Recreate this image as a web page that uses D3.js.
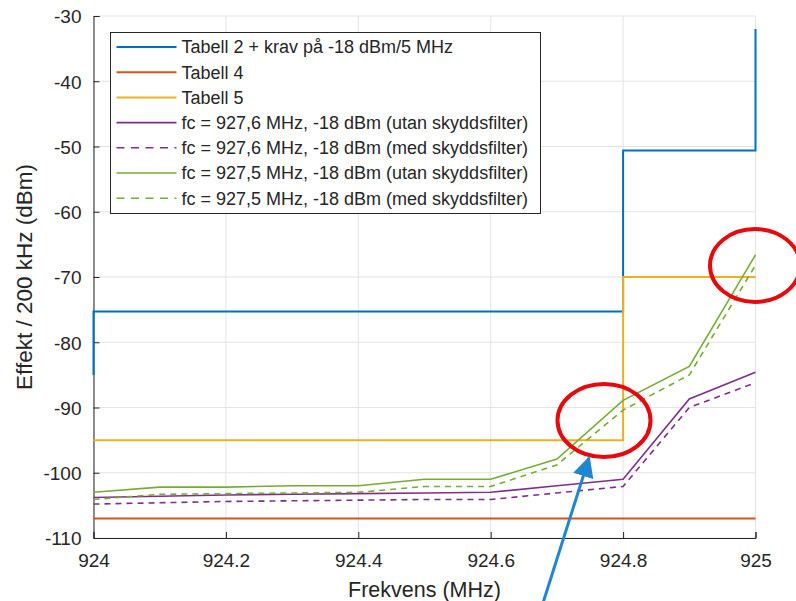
<!DOCTYPE html>
<html>
<head>
<meta charset="utf-8">
<script src="https://cdn.jsdelivr.net/npm/d3@7"></script>
<style>
  body { margin: 0; background: #fff; }
  svg text { font-family: "Liberation Sans", Arial, sans-serif; fill: #262626; }
</style>
</head>
<body>
<div id="chart"></div>
<script>
// frequency points (MHz)
var freqs = [924, 924.1, 924.2, 924.3, 924.4, 924.5, 924.6, 924.7, 924.8, 924.9, 925];

// measured curves (dBm / 200 kHz)
var purpleUtan = [-103.8, -103.6, -103.4, -103.3, -103.2, -103.1, -103, -102, -101, -88.7, -84.6];
var purpleMed  = [-104.8, -104.6, -104.4, -104.3, -104.2, -104.1, -104.1, -103.1, -102.1, -90, -86.2];
var greenUtan  = [-103, -102.2, -102.2, -102, -102, -101, -101, -97.9, -88.9, -83.7, -66.6];
var greenMed   = [-104.1, -103.3, -103.2, -103.1, -103, -102.1, -102.1, -98.8, -90.4, -85, -68.2];

// limit masks, given as [freq, value] corner points
var tabell2 = [[924, -85], [924, -75.3], [924.8, -75.3], [924.8, -50.6], [925, -50.6], [925, -32]];
var tabell4 = [[924, -107], [925, -107]];
var tabell5 = [[924, -95], [924.8, -95], [924.8, -70], [925, -70]];

var xTicks = [924, 924.2, 924.4, 924.6, 924.8, 925];
var yTicks = [-110, -100, -90, -80, -70, -60, -50, -40, -30];

var legendLabels = [
  "Tabell 2 + krav på -18 dBm/5 MHz",
  "Tabell 4",
  "Tabell 5",
  "fc = 927,6 MHz, -18 dBm (utan skyddsfilter)",
  "fc = 927,6 MHz, -18 dBm (med skyddsfilter)",
  "fc = 927,5 MHz, -18 dBm (utan skyddsfilter)",
  "fc = 927,5 MHz, -18 dBm (med skyddsfilter)"
];

var W = 796, H = 601;
var m = { left: 93.5, right: 755.5, top: 16, bottom: 538 };

var x = d3.scaleLinear().domain([924, 925]).range([m.left, m.right]);
var y = d3.scaleLinear().domain([-110, -30]).range([m.bottom, m.top]);

var svg = d3.select("#chart").append("svg")
  .attr("width", W)
  .attr("height", H);

// grid
var grid = svg.append("g").attr("class", "grid");
grid.selectAll("line.gx")
  .data(xTicks)
  .enter().append("line")
    .attr("x1", function(d) { return x(d); })
    .attr("x2", function(d) { return x(d); })
    .attr("y1", m.top)
    .attr("y2", m.bottom)
    .attr("stroke", "#e3e3e3")
    .attr("stroke-width", 1);
grid.selectAll("line.gy")
  .data(yTicks)
  .enter().append("line")
    .attr("x1", m.left)
    .attr("x2", m.right)
    .attr("y1", function(d) { return y(d); })
    .attr("y2", function(d) { return y(d); })
    .attr("stroke", "#e3e3e3")
    .attr("stroke-width", 1);

// axes (plain hyphen for minus, like the original)
var xAxis = d3.axisBottom(x).tickValues(xTicks).tickSize(-6).tickPadding(16)
  .tickFormat(function(d) { return String(Math.round(d * 10) / 10); });
var yAxis = d3.axisLeft(y).tickValues(yTicks).tickSize(-6).tickPadding(12)
  .tickFormat(function(d) { return String(d); });

var gx = svg.append("g")
  .attr("transform", "translate(0," + m.bottom + ")")
  .call(xAxis);
var gy = svg.append("g")
  .attr("transform", "translate(" + m.left + ",0)")
  .call(yAxis);

[gx, gy].forEach(function(g) {
  g.select(".domain").attr("stroke", "#262626").attr("stroke-width", 1);
  g.selectAll(".tick line").attr("stroke", "#262626");
  g.selectAll(".tick text")
    .attr("font-size", 19)
    .attr("fill", "#262626")
    .style("font-family", "'Liberation Sans', Arial, sans-serif");
});
gy.selectAll(".tick text").attr("dy", "0.36em");

// axis labels
svg.append("text")
  .attr("x", (m.left + m.right) / 2)
  .attr("y", 597)
  .attr("text-anchor", "middle")
  .attr("font-size", 21.5)
  .text("Frekvens (MHz)");

svg.append("text")
  .attr("transform", "translate(32," + ((m.top + m.bottom) / 2) + ") rotate(-90)")
  .attr("text-anchor", "middle")
  .attr("font-size", 22.5)
  .text("Effekt / 200 kHz (dBm)");

// series
var lineXY = d3.line()
  .x(function(d) { return x(d[0]); })
  .y(function(d) { return y(d[1]); });

function zipF(vals) {
  return freqs.map(function(f, i) { return [f, vals[i]]; });
}

var series = [
  { data: tabell2, color: "#0072BD", width: 2, dash: null },
  { data: tabell4, color: "#D95319", width: 2, dash: null },
  { data: tabell5, color: "#EDB120", width: 2, dash: null },
  { data: zipF(purpleUtan), color: "#7E2F8E", width: 1.6, dash: null },
  { data: zipF(purpleMed), color: "#7E2F8E", width: 1.6, dash: "6,5" },
  { data: zipF(greenUtan), color: "#77AC30", width: 1.6, dash: null },
  { data: zipF(greenMed), color: "#77AC30", width: 1.6, dash: "6,5" }
];

var plot = svg.append("g").attr("class", "plot");
plot.selectAll("path.series")
  .data(series)
  .enter().append("path")
    .attr("class", "series")
    .attr("d", function(d) { return lineXY(d.data); })
    .attr("fill", "none")
    .attr("stroke", function(d) { return d.color; })
    .attr("stroke-width", function(d) { return d.width; })
    .attr("stroke-dasharray", function(d) { return d.dash; });

// legend
var legend = svg.append("g").attr("transform", "translate(110.5,32.5)");
legend.append("rect")
  .attr("width", 430)
  .attr("height", 181)
  .attr("fill", "#fff")
  .attr("stroke", "#262626")
  .attr("stroke-width", 1);

var rows = legend.selectAll("g.row")
  .data(series)
  .enter().append("g")
    .attr("class", "row")
    .attr("transform", function(d, i) { return "translate(0," + (14.5 + i * 25.2) + ")"; });

rows.append("line")
  .attr("x1", 6)
  .attr("x2", 66)
  .attr("stroke", function(d) { return d.color; })
  .attr("stroke-width", function(d) { return d.width; })
  .attr("stroke-dasharray", function(d) { return d.dash ? "8,6.5" : null; });

rows.append("text")
  .attr("x", 71)
  .attr("dy", "0.36em")
  .attr("font-size", 18)
  .attr("fill", "#000")
  .text(function(d, i) { return legendLabels[i]; });

// annotations: red ellipses and blue arrow
var notes = svg.append("g").attr("class", "notes");
notes.append("ellipse")
  .attr("cx", 604).attr("cy", 420.5).attr("rx", 46.5).attr("ry", 36.5)
  .attr("fill", "none").attr("stroke", "#E8090F").attr("stroke-width", 4);
notes.append("ellipse")
  .attr("cx", 755).attr("cy", 265.5).attr("rx", 45).attr("ry", 36.5)
  .attr("fill", "none").attr("stroke", "#E8090F").attr("stroke-width", 4);

svg.append("defs").append("marker")
  .attr("id", "arrowhead")
  .attr("viewBox", "0 0 10 10")
  .attr("refX", 9).attr("refY", 5)
  .attr("markerWidth", 7).attr("markerHeight", 7)
  .attr("markerUnits", "strokeWidth")
  .attr("orient", "auto")
  .append("path")
    .attr("d", "M0,0 L10,5 L0,10 z")
    .attr("fill", "#1F86D1");

notes.append("line")
  .attr("x1", 543).attr("y1", 603)
  .attr("x2", 589).attr("y2", 458)
  .attr("stroke", "#1F86D1")
  .attr("stroke-width", 3)
  .attr("marker-end", "url(#arrowhead)");
</script>
</body>
</html>
